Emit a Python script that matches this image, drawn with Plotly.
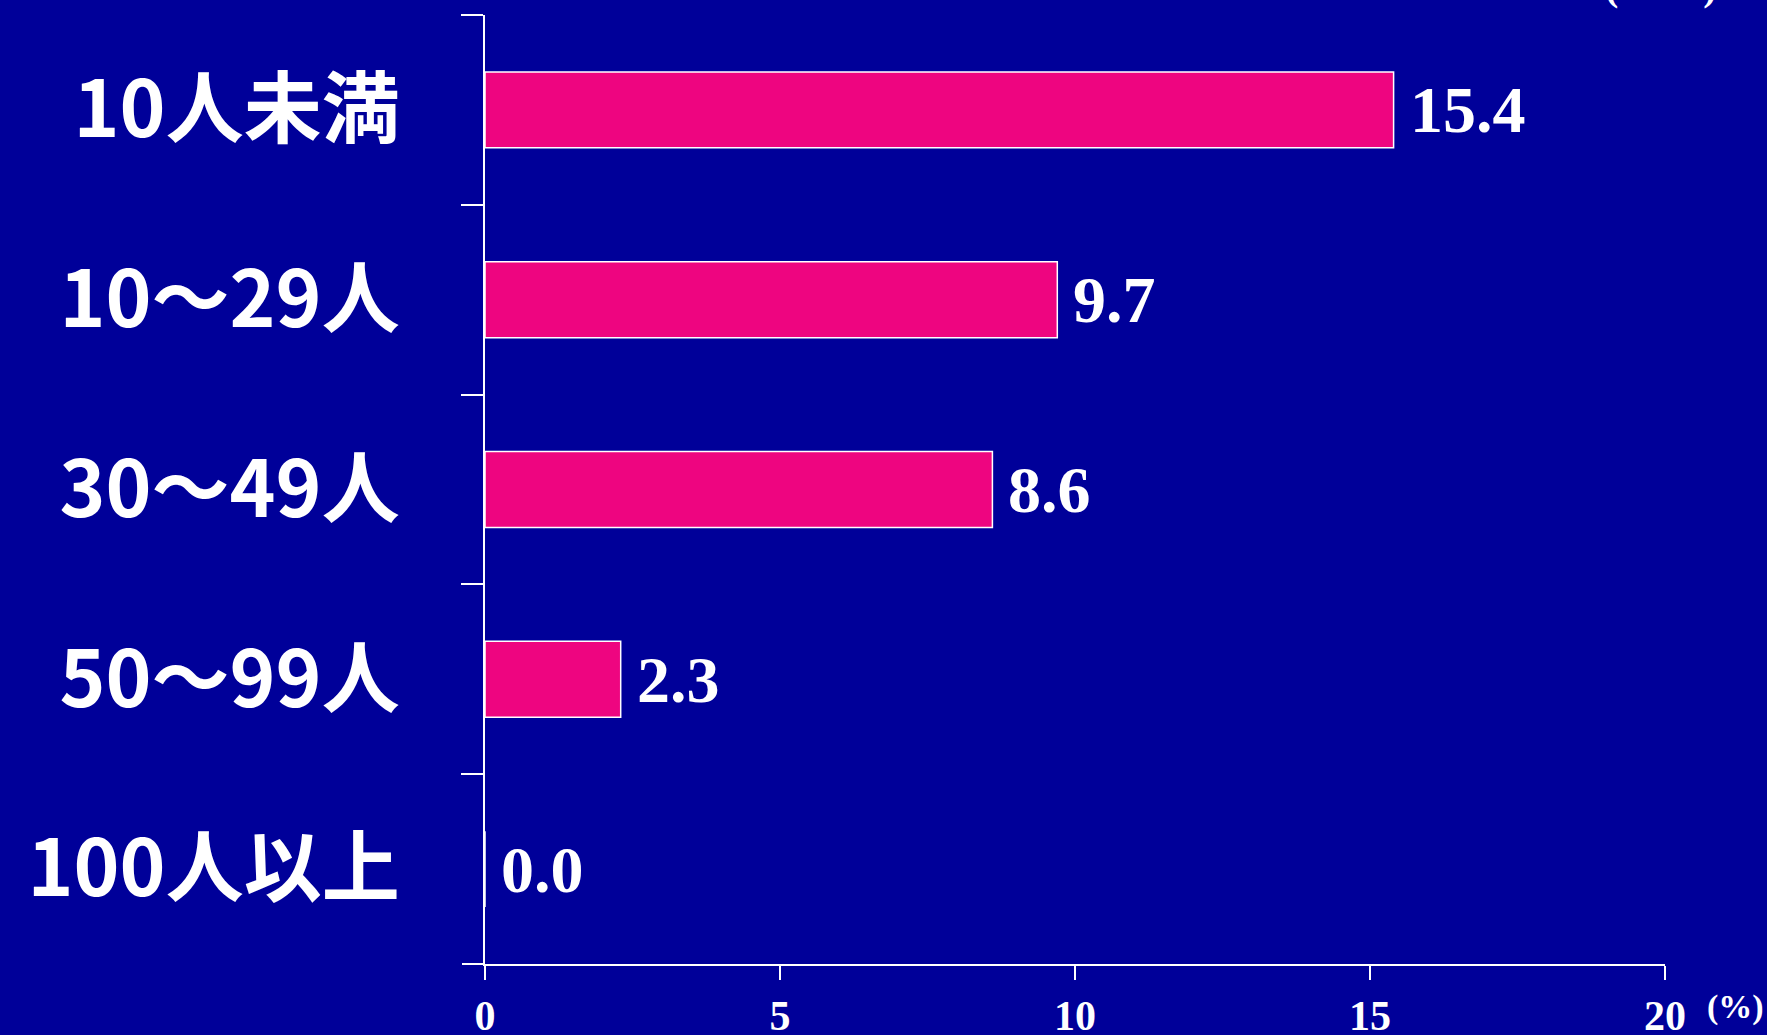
import plotly.graph_objects as go

categories = ["10人未満", "10～29人", "30～49人", "50～99人", "100人以上"]
values = [15.4, 9.7, 8.6, 2.3, 0.0]
value_labels = ["15.4", "9.7", "8.6", "2.3", "0.0"]
x_ticks = [0, 5, 10, 15, 20]
x_tick_labels = ["0", "5", "10", "15", "20"]

BG = "#000099"
BAR = "#EE0580"

fig = go.Figure()
fig.add_trace(go.Bar(
    y=categories, x=values, orientation="h",
    marker=dict(color=BAR, line=dict(color="white", width=1.5)),
    width=0.4, hoverinfo="skip",
))

for c, v, t in zip(categories, values, value_labels):
    fig.add_annotation(x=v, y=c, text=t, showarrow=False, xanchor="left", yanchor="middle",
                       xshift=14, font=dict(family="Liberation Serif", size=66, color="white", weight="bold"))

fig.add_annotation(xref="paper", yref="paper", x=1.0, y=0, xanchor="left", yanchor="top",
                   xshift=40, yshift=-22, text="(%)", showarrow=False,
                   font=dict(family="Liberation Serif", size=34, color="white", weight="bold"))
fig.add_annotation(xref="paper", yref="paper", x=1.0, y=1.0, xanchor="left", yanchor="bottom",
                   xshift=-62, yshift=4, text="(n=35)", showarrow=False,
                   font=dict(family="Liberation Serif", size=40, color="white", weight="bold"))

# extend x-axis line to the left under the y ticks
fig.add_shape(type="line", xref="paper", yref="paper", x0=-0.0195, x1=0, y0=0, y1=0,
              line=dict(color="white", width=2))

fig.update_layout(
    width=1767, height=1035,
    paper_bgcolor=BG, plot_bgcolor=BG,
    margin=dict(l=485, r=102, t=15, b=71, autoexpand=False),
    showlegend=False, bargap=0.6,
)
fig.update_xaxes(range=[0, 20], tickvals=x_ticks, ticktext=x_tick_labels, automargin=False,
                 showgrid=False, zeroline=False, showline=True, linecolor="white", linewidth=2,
                 ticks="outside", ticklen=14, tickwidth=1.5, tickcolor="white",
                 tickfont=dict(family="Liberation Serif", size=42, color="white", weight="bold"),
                 ticklabelstandoff=0)
fig.update_yaxes(categoryorder="array", categoryarray=categories, autorange="reversed", automargin=False,
                 showgrid=False, zeroline=False, showline=True, linecolor="white", linewidth=1.5,
                 ticks="outside", ticklen=22, tickwidth=1.5, tickcolor="white", tickson="boundaries",
                 tickfont=dict(family="Noto Sans CJK JP", size=78, color="white", weight="bold"),
                 ticklabelstandoff=68)

fig.write_html("out.html", config={"displayModeBar": False},
               post_script="document.body.style.margin='0';document.body.style.background='#000099';")
